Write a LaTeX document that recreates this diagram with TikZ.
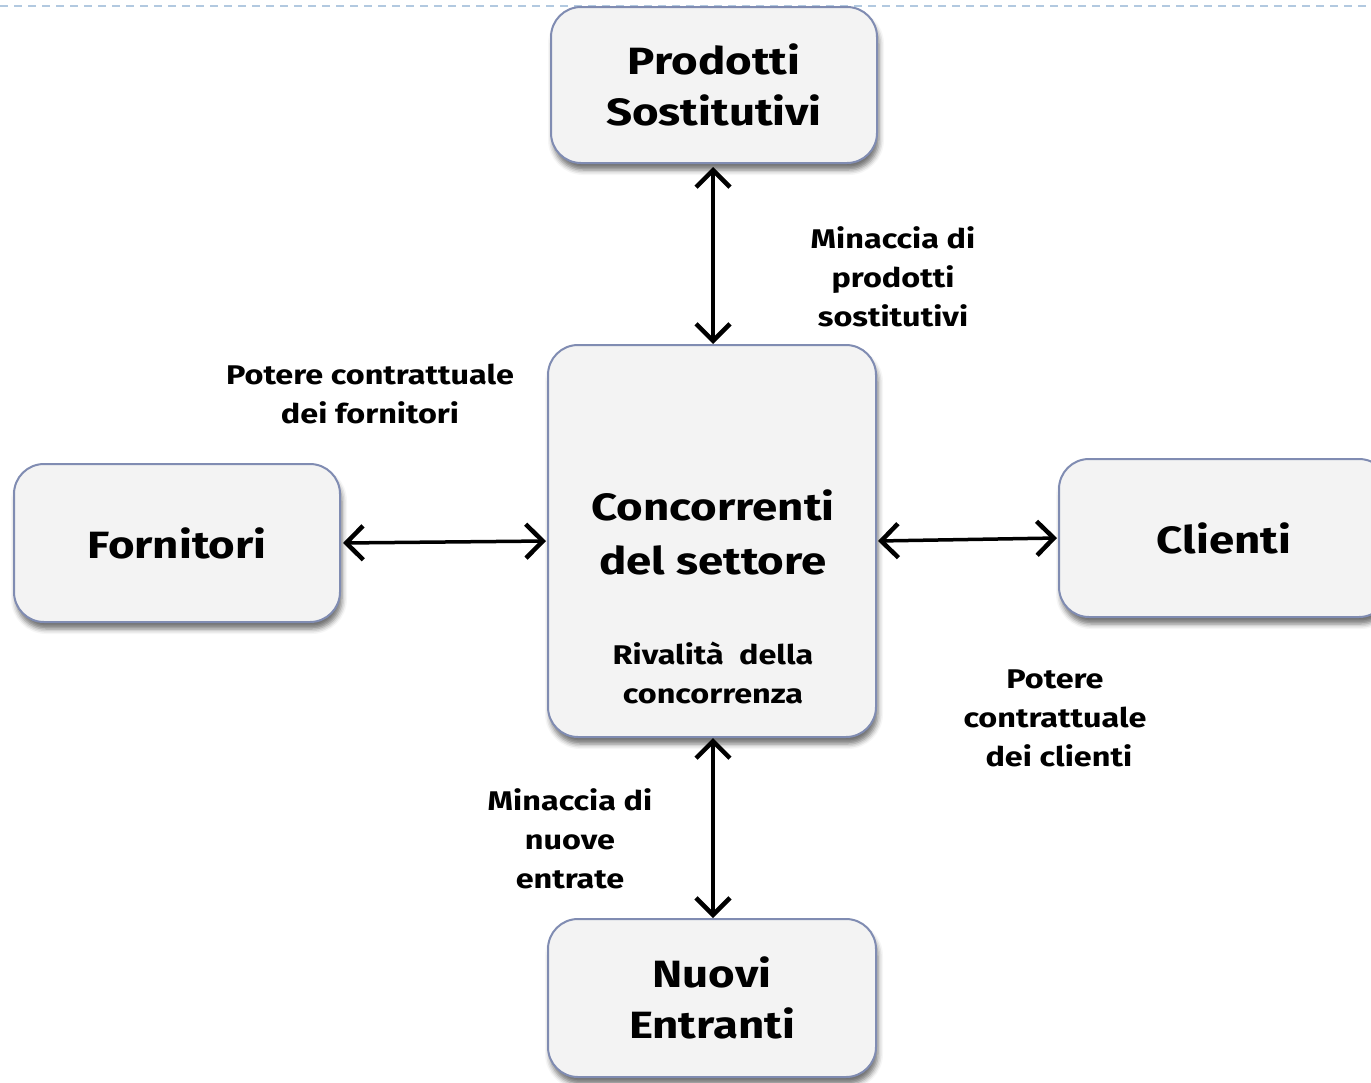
\documentclass[tikz,border=0pt]{standalone}
\usepackage{fontspec}
\setmainfont{Fira Sans}[Ligatures=NoCommon, FakeStretch=1.2]
\usetikzlibrary{arrows.meta,shadows.blur}
\definecolor{boxfill}{RGB}{243,243,243}
\definecolor{boxline}{RGB}{128,140,178}
\definecolor{rule}{RGB}{178,201,224}
\tikzset{
  force/.style={draw=boxline, line width=2pt, fill=boxfill, rounded corners=30pt,
    minimum width=#1, align=center, inner sep=0pt,
    font=\bfseries\fontsize{38}{51}\selectfont,
    blur shadow={shadow xshift=2pt, shadow yshift=-7pt, shadow blur radius=5pt, shadow opacity=55}},
  force/.default=326pt,
  note/.style={align=center, inner sep=0pt, font=\bfseries\fontsize{27}{39}\selectfont},
  link/.style={line width=3.5pt, {Straight Barb[length=17pt,width=34pt,line width=4.5pt]}-{Straight Barb[length=17pt,width=34pt,line width=4.5pt]}}
}
\begin{document}
\begin{tikzpicture}[x=1pt,y=-1pt]
\useasboundingbox (0,0) rectangle (1371,1082);
\clip (0,0) rectangle (1371,1082);
% header rule
\draw[rule, line width=2.5pt, dash pattern=on 8pt off 6pt] (0,6) -- (1368,6);
% the five forces
\node[force, minimum height=156pt] (prod) at (714,85) {Prodotti\\Sostitutivi};
\node[force=328pt, minimum height=392pt] (conc) at (712,541) {};
\node[force, minimum height=158pt] (forn) at (177,543) {Fornitori};
\node[force=330pt, minimum height=158pt] (cli) at (1224,538) {Clienti};
\node[force=328pt, minimum height=158pt] (nuovi) at (712,998) {Nuovi\\Entranti};
% texts inside the central box
\node[align=center, inner sep=0pt, font=\bfseries\fontsize{38}{54}\selectfont] (conctitle) at (713,532) {Concorrenti\\del settore};
\node[note] (rival) at (713,673) {Rivalità~ della\\concorrenza};
% connectors
\draw[link] ([yshift=-3pt]prod.south -| 713,0) -- (conc.north -| 713,0);
\draw[link] (conc.south -| 713,0) -- (nuovi.north -| 713,0);
\draw[link] ([xshift=2pt]forn.east) -- ([xshift=-1pt]conc.west);
\draw[link] ([xshift=1pt]conc.east) -- ([xshift=-1pt]cli.west);
% force labels
\node[note] (lsost) at (893,277) {Minaccia di\\prodotti\\sostitutivi};
\node[note] (lforn) at (370,394) {Potere contrattuale\\dei fornitori};
\node[note] (lcli) at (1055,718) {Potere\\contrattuale\\~dei clienti};
\node[note] (lnuovi) at (570,839) {Minaccia di\\nuove\\entrate};
\end{tikzpicture}
\end{document}
